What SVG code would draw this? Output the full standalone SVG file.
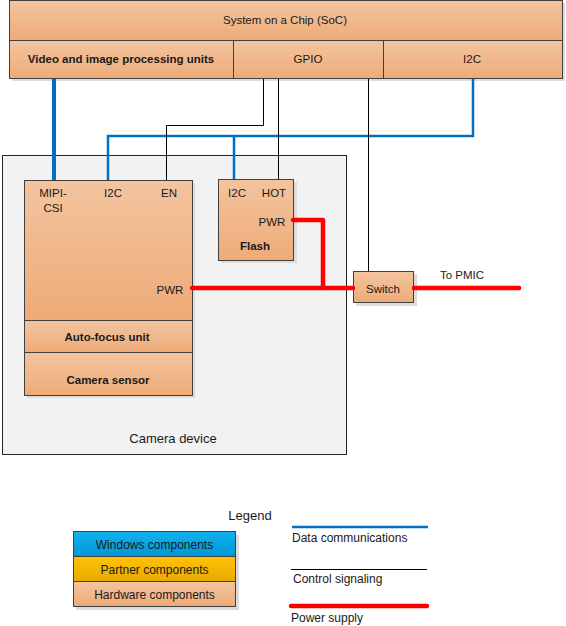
<svg xmlns="http://www.w3.org/2000/svg" width="566" height="626" viewBox="0 0 566 626">
<defs>
<linearGradient id="hw" x1="0" y1="0" x2="0" y2="1">
<stop offset="0" stop-color="#f3c49f"/><stop offset="1" stop-color="#eeab77"/>
</linearGradient>
<linearGradient id="win" x1="0" y1="0" x2="0" y2="1">
<stop offset="0" stop-color="#12b2ef"/><stop offset="1" stop-color="#0096d4"/>
</linearGradient>
<linearGradient id="par" x1="0" y1="0" x2="0" y2="1">
<stop offset="0" stop-color="#ffc208"/><stop offset="1" stop-color="#e8ab00"/>
</linearGradient>
</defs>
<style>
.box{fill:url(#hw);stroke:#404040;stroke-width:1}
.shadow{fill:#dcdcdc}
.t{font-family:"Liberation Sans",Arial,sans-serif;font-size:11.5px;fill:#1a1a1a;text-anchor:middle}
.b{font-weight:bold}
.lg{font-size:12px}
.data{stroke:#0070c0;stroke-width:2.5;fill:none}
.ctrl{stroke:#000;stroke-width:1;fill:none}
.pwr{stroke:#ff0000;stroke-width:4.5;fill:none;stroke-linecap:round;stroke-linejoin:round}
</style>

<g id="camera-device">
<rect x="2.5" y="155.5" width="344" height="299" fill="#f2f2f2" stroke="#262626" stroke-width="1"/>
<text class="t" x="173" y="443" style="font-size:13px">Camera device</text>
</g>

<g id="soc">
<rect class="shadow" x="12" y="3" width="553" height="78"/>
<rect class="box" x="9.5" y="0.5" width="553" height="40"/>
<rect class="box" x="9.5" y="40.5" width="224" height="38"/>
<rect class="box" x="233.5" y="40.5" width="150" height="38"/>
<rect class="box" x="383.5" y="40.5" width="179" height="38"/>
<text class="t" x="285" y="24">System on a Chip (SoC)</text>
<text class="t b" x="121" y="63">Video and image processing units</text>
<text class="t" x="308" y="63">GPIO</text>
<text class="t" x="472" y="63">I2C</text>
</g>

<g id="camera-module">
<rect class="shadow" x="27" y="183" width="168" height="215"/>
<rect class="box" x="24.5" y="180.5" width="168" height="140"/>
<rect class="box" x="24.5" y="320.5" width="168" height="32"/>
<rect class="box" x="24.5" y="352.5" width="168" height="43"/>
<text class="t" x="53" y="197">MIPI-</text>
<text class="t" x="53" y="212">CSI</text>
<text class="t" x="113" y="197">I2C</text>
<text class="t" x="169" y="197">EN</text>
<text class="t" x="170" y="294">PWR</text>
<text class="t b" x="107" y="341">Auto-focus unit</text>
<text class="t b" x="108" y="384">Camera sensor</text>
</g>

<g id="flash">
<rect class="shadow" x="221" y="182" width="76" height="81"/>
<rect class="box" x="218.5" y="179.5" width="75" height="81"/>
<text class="t" x="237" y="197">I2C</text>
<text class="t" x="274" y="197">HOT</text>
<text class="t" x="272" y="226">PWR</text>
<text class="t b" x="255" y="250">Flash</text>
</g>

<g id="switch">
<rect class="shadow" x="356" y="274" width="61" height="32"/>
<rect class="box" x="353.5" y="271.5" width="60" height="31"/>
<text class="t" x="383" y="293">Switch</text>
</g>

<g id="connectors">
<line class="data" x1="54" y1="79" x2="54" y2="180" style="stroke-width:4"/>
<polyline class="data" points="473,79 473,136 108,136 108,180"/>
<line class="data" x1="234" y1="136" x2="234" y2="179"/>
<polyline class="ctrl" points="263.5,79 263.5,125.5 166.5,125.5 166.5,180"/>
<line class="ctrl" x1="278.5" y1="79" x2="278.5" y2="179"/>
<line class="ctrl" x1="368.5" y1="79" x2="368.5" y2="271"/>
<line class="pwr" x1="192" y1="288" x2="353" y2="288"/>
<polyline class="pwr" points="293,220 323,220 323,288"/>
<line class="pwr" x1="414" y1="288" x2="519" y2="288"/>
<text class="t" x="462" y="279">To PMIC</text>
</g>

<g id="legend">
<text class="t" x="250" y="520" style="font-size:13px">Legend</text>
<rect class="shadow" x="76" y="535" width="163" height="75"/>
<rect x="73.5" y="531.5" width="162" height="25" fill="url(#win)" stroke="#404040"/>
<rect x="73.5" y="556.5" width="162" height="25" fill="url(#par)" stroke="#404040"/>
<rect x="73.5" y="581.5" width="162" height="25" fill="url(#hw)" stroke="#404040"/>
<text class="t lg" x="154.5" y="549">Windows components</text>
<text class="t lg" x="154.5" y="574">Partner components</text>
<text class="t lg" x="154.5" y="599">Hardware components</text>
<line class="data" x1="292" y1="527" x2="428" y2="527"/>
<text class="t lg" x="292" y="542" style="text-anchor:start">Data communications</text>
<line class="ctrl" x1="291" y1="569.5" x2="427" y2="569.5"/>
<text class="t lg" x="293" y="583" style="text-anchor:start">Control signaling</text>
<line class="pwr" x1="291" y1="606" x2="427" y2="606"/>
<text class="t lg" x="291" y="622" style="text-anchor:start">Power supply</text>
</g>
</svg>
